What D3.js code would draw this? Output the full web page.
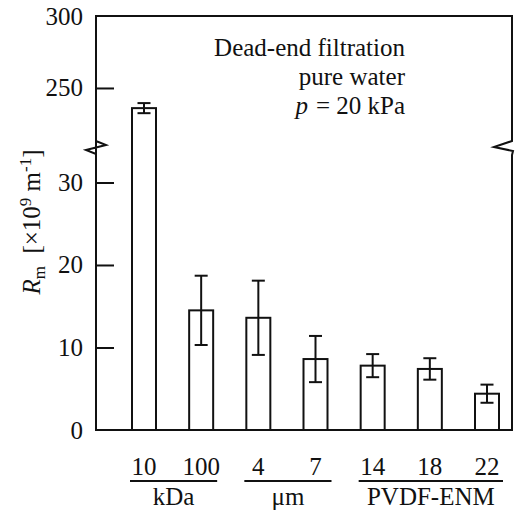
<!DOCTYPE html>
<html><head><meta charset="utf-8">
<script src="https://cdn.jsdelivr.net/npm/d3@7"></script>
<style>body{margin:0;background:#fff}svg{display:block}</style>
</head><body><svg id="c" width="518" height="512"></svg>
<script>
const categories = ["10","100","4","7","14","18","22"];
const groupNames = ["kDa","\u03bcm","PVDF-ENM"];
const groupOf = [0,0,1,1,2,2,2];
const values = [236, 14.5, 13.6, 8.6, 7.8, 7.4, 4.4];
const errors = [3.5, 4.2, 4.5, 2.8, 1.4, 1.3, 1.1];
const lowTicks = [0,10,20,30];
const highTicks = [250,300];

const FF = "'Liberation Serif'";
const svg = d3.select("#c");
const fs = 25;
const L = 96, R = 512, T = 16, B = 430, brk = 147;
const yLow = d3.scaleLinear().domain([0, 34.3]).range([B, brk]);
const yHigh = d3.scaleLinear().domain([209, 300]).range([brk, T]);
const y = v => v <= 34.3 ? yLow(v) : yHigh(v);
const x = d3.scalePoint().domain(d3.range(categories.length)).range([144, 487]);
const bw = 24, cap = 13;

const g = svg.append("g").attr("stroke","#111").attr("stroke-width",2).attr("fill","none");
g.append("path").attr("d",`M${L},${B} L${L},${brk-6} L${L+10},${brk-2} L${L-10},${brk+3} L${L},${brk+7} L${L},${T} L${R},${T} L${R},${brk-6} L${R-18},${brk} L${R+1},${brk+4} L${R},${brk+8} L${R},${B} Z`);

const axLow = d3.axisLeft(yLow).tickValues(lowTicks).tickSizeInner(-18).tickSizeOuter(0);
const axHigh = d3.axisLeft(yHigh).tickValues(highTicks).tickSizeInner(-18).tickSizeOuter(0);
[axLow, axHigh].forEach(ax=>{
  const a = svg.append("g").attr("transform",`translate(${L},0)`).call(ax).attr("font-family",FF).attr("font-size",fs);
  a.select(".domain").remove();
  a.selectAll(".tick line").attr("stroke","#111").attr("stroke-width",2)
    .attr("opacity", d => (d===0||d===300)?0:1);
  a.selectAll(".tick text").attr("x",-13).attr("fill","#111");
});

svg.append("g").selectAll("rect").data(values).join("rect")
  .attr("x",(d,i)=>x(i)-bw/2).attr("width",bw)
  .attr("y",d=>y(d)).attr("height",d=>B-y(d))
  .attr("fill","#fff").attr("stroke","#111").attr("stroke-width",2);

const eg = svg.append("g").attr("stroke","#111").attr("stroke-width",2);
values.forEach((v,i)=>{
  const cx = x(i), t = y(v+errors[i]), b = y(v-errors[i]);
  eg.append("line").attr("x1",cx).attr("x2",cx).attr("y1",t).attr("y2",b);
  eg.append("line").attr("x1",cx-cap/2).attr("x2",cx+cap/2).attr("y1",t).attr("y2",t);
  eg.append("line").attr("x1",cx-cap/2).attr("x2",cx+cap/2).attr("y1",b).attr("y2",b);
});

const tg = svg.append("g").attr("font-family",FF).attr("font-size",fs).attr("fill","#111");
tg.selectAll("text.cat").data(categories).join("text").attr("class","cat")
  .attr("x",(d,i)=>x(i)).attr("y",475).attr("text-anchor","middle").text(d=>d);

groupNames.forEach((name,gi)=>{
  const idx = d3.range(categories.length).filter(i=>groupOf[i]===gi);
  const x0 = x(idx[0]) - 14, x1 = x(idx[idx.length-1]) + 16;
  svg.append("line").attr("x1",x0).attr("x2",x1).attr("y1",481).attr("y2",481)
    .attr("stroke","#111").attr("stroke-width",2);
  tg.append("text").attr("x",(x0+x1)/2).attr("y",505).attr("text-anchor","middle").text(name);
});

const ann = tg.append("g").attr("text-anchor","end");
ann.append("text").attr("x",405).attr("y",56).text("Dead-end filtration");
ann.append("text").attr("x",405).attr("y",85).text("pure water");
const t3 = ann.append("text").attr("x",405).attr("y",114);
t3.append("tspan").style("font-style","italic").text("p");
t3.append("tspan").attr("dx",8).text("= 20 kPa");

const yl = tg.append("text").attr("transform","translate(40,222) rotate(-90)").attr("text-anchor","middle");
yl.append("tspan").style("font-style","italic").text("R");
yl.append("tspan").attr("dy",5).attr("font-size",17).text("m");
yl.append("tspan").attr("dy",-5).text("\u00a0 [\u00d710");
yl.append("tspan").attr("dy",-9).attr("font-size",17).text("9");
yl.append("tspan").attr("dy",9).text(" m");
yl.append("tspan").attr("dy",-9).attr("font-size",17).text("-1");
yl.append("tspan").attr("dy",9).text("]");
</script></body></html>
